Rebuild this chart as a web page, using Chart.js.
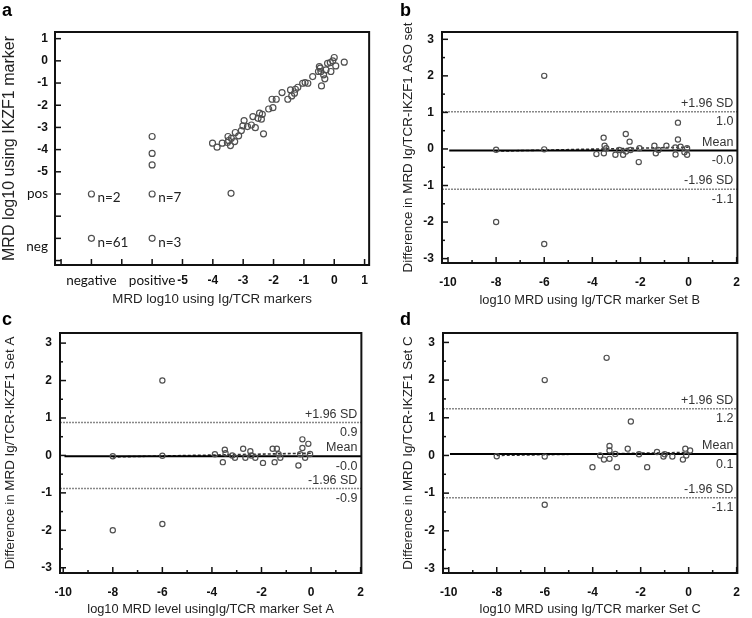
<!DOCTYPE html>
<html>
<head>
<meta charset="utf-8">
<script src="https://cdn.jsdelivr.net/npm/chart.js@4.4.1/dist/chart.umd.min.js"></script>
<style>
  body { margin: 0; background: #fff; }
  #wrap { position: relative; width: 752px; height: 618px; overflow: hidden; }
  .panel { position: absolute; width: 376px; height: 309px; }
  .letter { position: absolute; font: bold 18px "Liberation Sans", Arial, sans-serif; color: #000; }
</style>
</head>
<body>
<div id="wrap">
  <div class="panel" style="left:0;top:0"><canvas id="chartA" width="376" height="309"></canvas></div>
  <div class="panel" style="left:376px;top:0"><canvas id="chartB" width="376" height="309"></canvas></div>
  <div class="panel" style="left:0;top:309px"><canvas id="chartC" width="376" height="309"></canvas></div>
  <div class="panel" style="left:376px;top:309px"><canvas id="chartD" width="376" height="309"></canvas></div>
  <div class="letter" style="left:2px;top:0">a</div>
  <div class="letter" style="left:400px;top:0">b</div>
  <div class="letter" style="left:2px;top:309px">c</div>
  <div class="letter" style="left:400px;top:309px">d</div>
</div>
<script>
// ========== DATOS PANEL A ==========
const aX = [-8, -8, -6, -6, -6, -6, -6, -3.4,
  -4.01, -3.86, -3.69, -3.52, -3.5, -3.48, -3.42, -3.39, -3.28, -3.26, -3.15, -3.06, -3.01, -2.97,
  -2.86, -2.73, -2.68, -2.6, -2.51, -2.46, -2.4, -2.37, -2.33, -2.16, -2.05, -2.02, -1.91, -1.72,
  -1.53, -1.44, -1.4, -1.31, -1.28, -1.2, -1.04, -0.96, -0.87, -0.71, -0.52, -0.49, -0.46, -0.44,
  -0.42, -0.35, -0.31, -0.27, -0.22, -0.13, -0.11, -0.05, 0, 0.05, 0.33];
const aY = [-6, -8, -6, -8, -3.41, -4.17, -4.69, -5.97,
  -3.71, -3.89, -3.71, -3.68, -3.41, -3.59, -3.82, -3.49, -3.64, -3.23, -3.38, -3.14, -2.93, -2.69,
  -2.96, -2.89, -2.51, -3.01, -2.59, -2.36, -2.63, -2.41, -3.29, -2.17, -1.73, -2.11, -1.73, -1.43,
  -1.73, -1.31, -1.58, -1.46, -1.28, -1.19, -1.01, -0.98, -1.01, -0.71, -0.48, -0.26, -0.33, -0.48,
  -1.13, -0.63, -0.81, -0.41, -0.11, -0.08, -0.48, 0, 0.15, -0.23, -0.06];
const aXTicks = [-9, -8, -7, -6, -5, -4, -3, -2, -1, 0, 1];
const aXTickLabels = ['', 'negative', '', 'positive', '-5', '-4', '-3', '-2', '-1', '0', '1'];
const aYTicks = [-9, -8, -7, -6, -5, -4, -3, -2, -1, 0, 1];
const aYTickLabels = ['', ['', 'neg'], '', 'pos', '-5', '-4', '-3', '-2', '-1', '0', '1'];
const aNotes = ['n=2', 'n=61', 'n=7', 'n=3'];
const aNoteX = [-8, -8, -6, -6];
const aNoteY = [-6, -8, -6, -8];

// ========== DATOS PANEL B ==========
const bX = [-6, -8, -6, -8, -6,
  -3.83, -3.53, -3.49, -3.52, -3.42, -3.04, -2.88, -2.72, -2.61, -2.6, -2.45, -2.41, -2.07, -2.04,
  -1.42, -1.36, -1.25, -0.92, -0.55, -0.54, -0.44, -0.44, -0.33, -0.17, -0.06, -0.06];
const bY = [2.0, -2.0, -2.6, -0.02, -0.01,
  -0.14, 0.31, 0.09, -0.12, 0.02, -0.16, -0.03, -0.16, 0.41, -0.07, 0.2, -0.03, -0.36, 0.02,
  0.09, -0.12, -0.03, 0.09, 0.04, -0.15, 0.72, 0.26, 0.06, -0.09, -0.16, 0.02];
const bLimits = [1.02, -0.04, -1.1];
const bLimitTexts = ['1.0', '-0.0', '-1.1'];
const bTrend = [-0.06, 0.05];

// ========== DATOS PANEL C ==========
const cX = [-6, -8, -6, -8, -6,
  -3.88, -3.56, -3.48, -3.45, -3.18, -3.07, -2.74, -2.65, -2.45, -2.41, -2.25, -1.94, -1.55,
  -1.47, -1.38, -1.31, -1.24, -0.51, -0.44, -0.35, -0.35, -0.24, -0.11, -0.04];
const cY = [2.0, -2.0, -1.83, -0.02, -0.01,
  0.03, -0.18, 0.15, 0.06, 0, -0.06, 0.18, -0.06, 0.11, 0, -0.06, -0.2, 0.18,
  -0.18, 0.18, 0.03, -0.06, -0.27, 0.03, 0.43, 0.2, -0.06, 0.31, 0.04];
const cLimits = [0.88, -0.02, -0.88];
const cLimitTexts = ['0.9', '-0.0', '-0.9'];
const cTrend = [-0.04, 0.06];

// ========== DATOS PANEL D ==========
const dX = [-6, -3.42, -6, -8, -6,
  -2.41, -4.01, -3.69, -3.53, -3.3, -3.3, -3.3, -3.06, -2.99, -2.54, -2.07, -1.73, -1.32,
  -1.05, -1.0, -0.68, -0.24, -0.14, -0.1, 0.06];
const dY = [2.0, 2.59, -1.31, -0.02, -0.03,
  0.9, -0.31, 0, -0.11, 0.25, 0.13, -0.09, 0.04, -0.31, 0.18, 0.03, -0.31, 0.09,
  -0.03, 0.03, -0.03, -0.11, 0.18, 0, 0.13];
const dLimits = [1.24, 0.04, -1.12];
const dLimitTexts = ['1.2', '0.1', '-1.1'];
const dTrend = [0.0, 0.08];

const limitTitles = ['+1.96 SD', 'Mean', '-1.96 SD'];
const baXMajor = [-10, -8, -6, -4, -2, 0, 2];
const baXMinor = [-9, -7, -5, -3, -1, 1];
const baYMajor = [-3, -2, -1, 0, 1, 2, 3];
const baYMinor = [-2.5, -1.5, -0.5, 0.5, 1.5, 2.5];

const FONT = '"Liberation Sans", Arial, sans-serif';
const FONT_TXT = 'Lato, "Open Sans", sans-serif';

// ========== PLUGIN: MARCO, TICKS INTERNOS Y TEXTOS ==========
const marcoPlugin = {
  id: 'marco',
  afterDatasetsDraw(chart, args, opts) {
    const ctx = chart.ctx;
    const area = chart.chartArea;
    const sx = chart.scales.x;
    const sy = chart.scales.y;
    ctx.save();
    ctx.strokeStyle = '#111';
    // ticks hacia dentro
    ctx.lineWidth = 1.5;
    (opts.xMajor || []).forEach(v => {
      const px = sx.getPixelForValue(v);
      ctx.beginPath(); ctx.moveTo(px, area.bottom); ctx.lineTo(px, area.bottom - 6); ctx.stroke();
    });
    (opts.xMinor || []).forEach(v => {
      const px = sx.getPixelForValue(v);
      ctx.beginPath(); ctx.moveTo(px, area.bottom); ctx.lineTo(px, area.bottom - 3); ctx.stroke();
    });
    (opts.yMajor || []).forEach(v => {
      const py = sy.getPixelForValue(v);
      ctx.beginPath(); ctx.moveTo(area.left, py); ctx.lineTo(area.left + 6, py); ctx.stroke();
    });
    (opts.yMinor || []).forEach(v => {
      const py = sy.getPixelForValue(v);
      ctx.beginPath(); ctx.moveTo(area.left, py); ctx.lineTo(area.left + 3, py); ctx.stroke();
    });
    // marco
    ctx.lineWidth = 2;
    ctx.strokeRect(area.left, area.top, area.right - area.left, area.bottom - area.top);

    // textos de limites
    if (opts.limits) {
      ctx.fillStyle = '#333';
      ctx.font = '12.5px ' + FONT;
      ctx.textAlign = 'right';
      opts.limits.forEach((v, i) => {
        const py = sy.getPixelForValue(v);
        ctx.textBaseline = 'bottom';
        ctx.fillText(limitTitles[i], area.right - 4, py - 2);
        ctx.textBaseline = 'top';
        ctx.fillText(opts.limitTexts[i], area.right - 4, py + 4);
      });
    }
    // notas n=
    if (opts.notes) {
      ctx.fillStyle = '#222';
      ctx.font = '13.5px ' + FONT_TXT;
      ctx.textAlign = 'left';
      ctx.textBaseline = 'middle';
      opts.notes.forEach((t, i) => {
        const px = sx.getPixelForValue(opts.noteX[i]);
        const py = sy.getPixelForValue(opts.noteY[i]);
        ctx.fillText(t, px + 6, py + 4);
      });
    }
    ctx.restore();
  }
};

function puntos(xs, ys, radio) {
  return {
    type: 'scatter',
    data: xs.map((x, i) => ({ x: x, y: ys[i] })),
    pointStyle: 'circle',
    pointRadius: radio,
    borderColor: '#505050',
    backgroundColor: 'rgba(255,255,255,0)',
    borderWidth: 1.2,
    order: 0
  };
}

function linea(x0, x1, y0, y1, color, ancho, guiones) {
  return {
    type: 'line',
    data: [{ x: x0, y: y0 }, { x: x1, y: y1 }],
    borderColor: color,
    borderWidth: ancho,
    borderDash: guiones,
    pointRadius: 0,
    fill: false,
    order: 1
  };
}

function fuenteTick(ticks, labels) {
  return ctx => {
    const num = { family: FONT, size: 12, weight: 'bold' };
    if (!ctx || !ctx.tick) return num;
    const l = labels[ticks.indexOf(ctx.tick.value)];
    const txt = Array.isArray(l) ? l.join('') : String(l || '');
    return /[a-z]/.test(txt) ? { family: FONT_TXT, size: 13.5 } : num;
  };
}

function escalaX(min, max, ticks, labels, titulo, cfg) {
  return {
    type: 'linear', min: min, max: max,
    afterBuildTicks: s => { s.ticks = ticks.map(v => ({ value: v })); },
    afterFit: s => { s.height = cfg.xh; },
    grid: { display: false, drawTicks: false },
    border: { display: false },
    ticks: {
      padding: cfg.xpad,
      color: '#111',
      maxRotation: 0,
      autoSkip: false,
      font: fuenteTick(ticks, labels),
      callback: v => labels[ticks.indexOf(v)]
    },
    title: {
      display: true, text: titulo, color: '#222',
      font: { family: FONT, size: cfg.xtSize },
      padding: { top: 0, bottom: cfg.xtPad }
    }
  };
}

function escalaY(min, max, ticks, labels, titulo, cfg) {
  return {
    type: 'linear', min: min, max: max,
    afterBuildTicks: s => { s.ticks = ticks.map(v => ({ value: v })); },
    afterFit: s => { s.width = cfg.yw; },
    grid: { display: false, drawTicks: false },
    border: { display: false },
    ticks: {
      padding: cfg.ypad,
      color: '#111',
      autoSkip: false,
      font: fuenteTick(ticks, labels),
      callback: v => labels[ticks.indexOf(v)]
    },
    title: {
      display: true, text: titulo, color: '#222',
      font: { family: FONT, size: cfg.ytSize },
      padding: { top: cfg.ytPad, bottom: 0 }
    }
  };
}

function opcionesBase(pad, scales, marco) {
  return {
    responsive: false,
    animation: false,
    layout: { padding: pad },
    plugins: { legend: { display: false }, tooltip: { enabled: false }, marco: marco },
    scales: scales
  };
}

// ========== PANEL A ==========
new Chart(document.getElementById('chartA'), {
  data: { datasets: [puntos(aX, aY, 3)] },
  options: opcionesBase({ top: 32, right: 4, bottom: 0, left: 0 }, {
    x: escalaX(-9.2, 1.15, aXTicks, aXTickLabels, 'MRD log10 using Ig/TCR markers', { xh: 44, xpad: 8, xtSize: 13.3, xtPad: 2 }),
    y: escalaY(-9.2, 1.3, aYTicks, aYTickLabels, 'MRD log10 using IKZF1 marker', { yw: 55, ypad: 7, ytSize: 16, ytPad: 0 })
  }, { xMajor: aXTicks, yMajor: aYTicks, notes: aNotes, noteX: aNoteX, noteY: aNoteY }),
  plugins: [marcoPlugin]
});

// ========== PANELES BLAND-ALTMAN ==========
function panelBA(id, xs, ys, limites, textos, tendencia, tituloX, tituloY, geo) {
  const xmin = geo.xmin, xmax = geo.xmax;
  new Chart(document.getElementById(id), {
    data: {
      datasets: [
        puntos(xs, ys, 2.6),
        linea(xmin, xmax, limites[0], limites[0], '#888', 1.5, [2, 1]),
        linea(-9.95, xmax, limites[1], limites[1], '#000', 2, []),
        linea(xmin, xmax, limites[2], limites[2], '#888', 1.5, [2, 1]),
        linea(-8, 0, tendencia[0], tendencia[1], '#333', 1.6, [3, 2])
      ]
    },
    options: opcionesBase(geo.pad, {
      x: escalaX(xmin, xmax, baXMajor, baXMajor.map(String), tituloX, { xh: geo.xh, xpad: geo.xpad, xtSize: 12.8, xtPad: 1 }),
      y: escalaY(geo.ymin, geo.ymax, baYMajor, baYMajor.map(String), tituloY, { yw: geo.yw, ypad: 8, ytSize: 13.4, ytPad: geo.ytPad })
    }, { xMajor: baXMajor, xMinor: baXMinor, yMajor: baYMajor, yMinor: baYMinor, limits: limites, limitTexts: textos }),
    plugins: [marcoPlugin]
  });
}

panelBA('chartB', bX, bY, bLimits, bLimitTexts, bTrend,
  'log10 MRD using Ig/TCR marker Set B', 'Difference in MRD Ig/TCR-IKZF1 ASO set',
  { xmin: -10.25, xmax: 2.03, ymin: -3.12, ymax: 3.2, pad: { top: 32, right: 9, bottom: 0, left: 20 }, yw: 46, xh: 46, xpad: 12, ytPad: 4 });

panelBA('chartC', cX, cY, cLimits, cLimitTexts, cTrend,
  'log10 MRD level usingIg/TCR marker Set A', 'Difference in MRD Ig/TCR-IKZF1 Set A',
  { xmin: -10.13, xmax: 2.03, ymin: -3.14, ymax: 3.27, pad: { top: 24, right: 13, bottom: 0, left: 0 }, yw: 60, xh: 45, xpad: 12, ytPad: 2 });

panelBA('chartD', dX, dY, dLimits, dLimitTexts, dTrend,
  'log10 MRD using Ig/TCR marker Set C', 'Difference in MRD Ig/TCR-IKZF1 Set C',
  { xmin: -10.24, xmax: 2.03, ymin: -3.12, ymax: 3.25, pad: { top: 24, right: 8, bottom: 0, left: 20 }, yw: 47, xh: 45, xpad: 12, ytPad: 4 });
</script>
</body>
</html>
